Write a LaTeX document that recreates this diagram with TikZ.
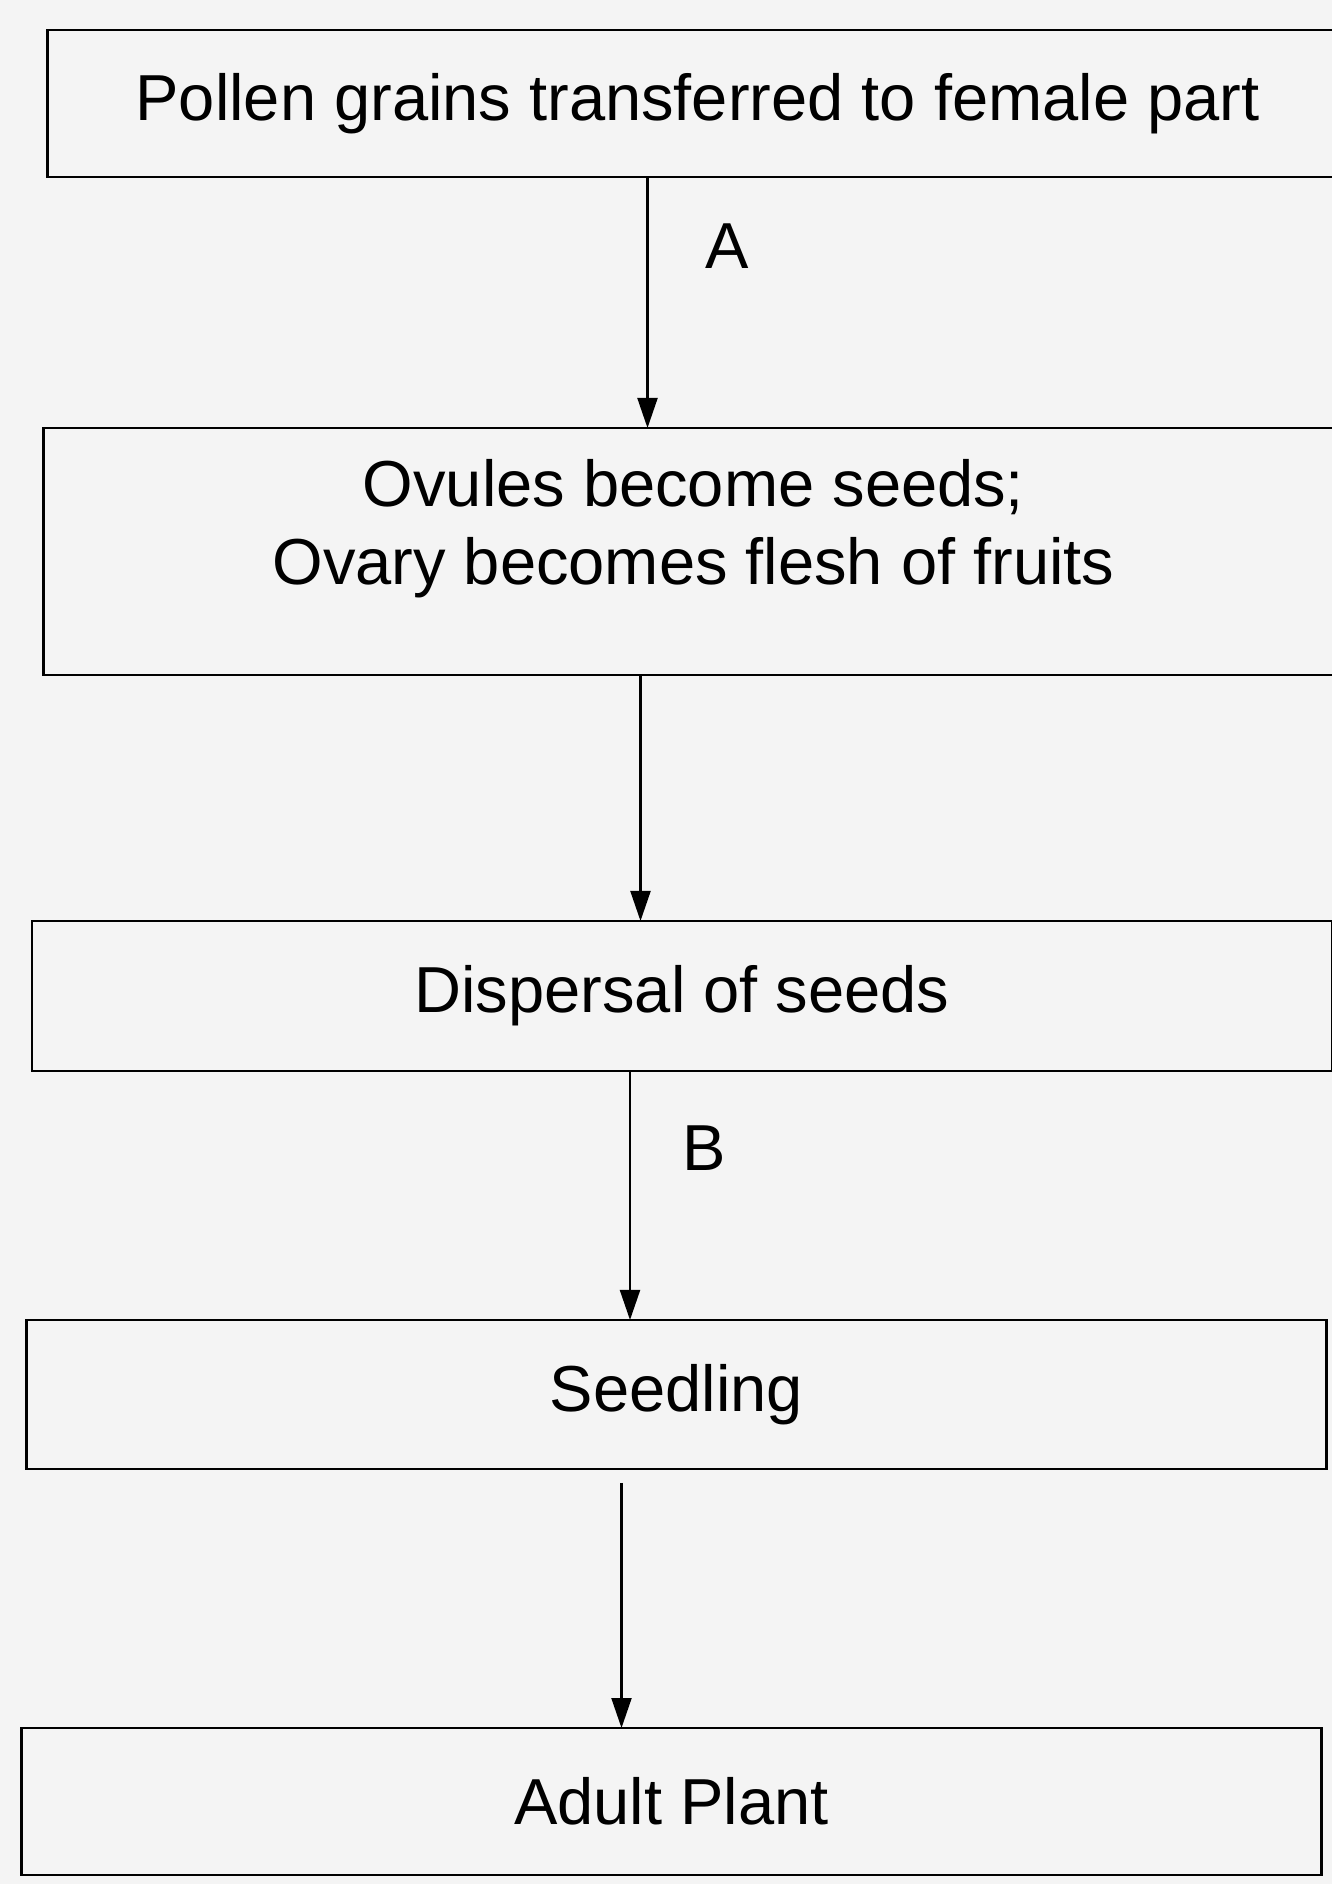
\documentclass[tikz,border=0pt]{standalone}
\usepackage{fontspec}
\setmainfont{Liberation Sans}
\usepackage{tikz}
\usetikzlibrary{positioning, arrows.meta}
\definecolor{scangray}{HTML}{F4F4F4}
\tikzset{
    stagebox/.style={draw=black, line width=0.8pt, minimum width=13cm, inner sep=0pt, outer sep=0pt, align=center},
}

\begin{document}
\begin{tikzpicture}[
    >={Triangle[length=3mm, width=2mm]}, line width=0.6pt,
    every node/.style={font=\fontsize{18.5}{22.2}\selectfont},
]
\clip (0,0) rectangle (13.32,18.84);
\fill[scangray] (0,0) rectangle (13.32,18.84);

\node[stagebox, minimum height=1.47cm] (pollen) at (6.975,17.805) {Pollen grains transferred to female part};
\node[stagebox, minimum height=2.47cm, text depth=0.6cm, below=2.51cm of pollen, xshift=-0.04cm] (ovule) {Ovules become seeds;\\ Ovary becomes flesh of fruits};
\node[stagebox, minimum height=1.5cm, below=2.46cm of ovule, xshift=-0.115cm] (disp) {Dispersal of seeds};
\node[stagebox, minimum height=1.49cm, below=2.49cm of disp, xshift=-0.055cm] (seedling) {Seedling};
\node[stagebox, minimum height=1.47cm, below=2.59cm of seedling, xshift=-0.05cm] (adult) {Adult Plant};

\draw[->] ([xshift=-5mm]pollen.south) -- ([xshift=-5mm]pollen.south |- ovule.north) node[pos=0.275, right=0.45cm]{A};
\draw[->] ([xshift=-5.3mm]ovule.south) -- ([xshift=-5.3mm]ovule.south |- disp.north);
\draw[->] ([xshift=-5.2mm]disp.south) -- ([xshift=-5.2mm]disp.south |- seedling.north) node[pos=0.31, right=0.4cm]{B};
\draw[->, shorten <=1.4mm] ([xshift=-5.5mm]seedling.south) -- ([xshift=-5.5mm]seedling.south |- adult.north);
\end{tikzpicture}
\end{document}
